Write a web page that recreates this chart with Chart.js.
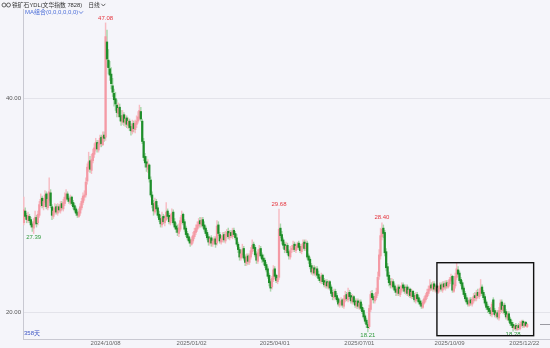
<!DOCTYPE html>
<html>
<head>
<meta charset="utf-8">
<script src="https://cdn.jsdelivr.net/npm/chart.js@4.4.1/dist/chart.umd.min.js"></script>
<style>
  html, body { margin: 0; padding: 0; background: #f5f5fa; }
  #wrap { width: 550px; height: 348px; }
</style>
</head>
<body>
<div id="wrap"><canvas id="kline" width="550" height="348"></canvas></div>
<script>
// daily candles, 358 days
const open = [
  28.4, 29.5, 29.1, 28.6, 29.0, 28.7, 28.3, 27.9, 28.4, 28.9,
  28.4, 29.1, 30.2, 30.7, 29.9, 30.3, 31.1, 29.8, 30.5, 31.2,
  29.9, 29.0, 29.4, 29.9, 29.3, 29.9, 29.5, 30.2, 29.7, 30.2,
  30.7, 31.1, 30.7, 30.3, 30.8, 30.3, 30.0, 29.7, 29.4, 29.0,
  29.3, 29.8, 30.3, 30.8, 31.0, 32.3, 33.5, 34.2, 33.3, 34.2,
  34.8, 35.3, 35.9, 35.2, 35.7, 36.4, 35.7, 36.6, 36.4, 45.3,
  43.6, 42.8, 42.3, 41.2, 40.5, 40.0, 39.4, 38.6, 39.2, 38.4,
  37.8, 38.5, 37.7, 38.2, 37.5, 37.9, 37.4, 36.9, 37.7, 37.1,
  37.6, 37.9, 38.2, 38.8, 37.9, 36.0, 34.6, 34.1, 33.4, 33.8,
  32.4, 31.0, 30.2, 29.4, 30.4, 29.8, 29.2, 28.8, 28.2, 29.0,
  28.4, 28.7, 29.5, 29.1, 28.4, 28.8, 29.4, 28.5, 28.1, 27.9,
  27.4, 27.8, 28.5, 29.2, 28.5, 27.9, 27.4, 27.1, 26.8, 26.4,
  26.7, 27.1, 27.5, 27.8, 28.1, 28.6, 28.2, 28.7, 28.2, 27.9,
  27.5, 27.1, 26.5, 27.0, 26.4, 26.6, 26.9, 26.5, 28.2, 27.3,
  26.6, 26.8, 27.3, 26.7, 27.2, 27.6, 27.0, 27.5, 27.1, 27.7,
  27.4, 27.0, 26.4, 25.9, 25.1, 25.4, 26.0, 25.2, 24.6, 25.3,
  24.7, 25.2, 25.7, 26.4, 26.1, 25.5, 24.8, 25.5, 26.0, 25.4,
  25.1, 24.9, 24.5, 24.1, 23.5, 22.9, 22.4, 23.1, 24.1, 23.5,
  22.9, 23.3, 27.9, 27.3, 26.8, 26.4, 25.8, 26.3, 25.7, 25.2,
  25.9, 25.9, 26.4, 25.8, 26.1, 26.5, 26.2, 25.7, 26.1, 26.6,
  26.0, 26.5, 25.3, 25.0, 24.4, 23.7, 24.2, 23.6, 24.1, 23.6,
  23.3, 22.9, 23.5, 23.0, 22.5, 22.9, 22.4, 22.9, 22.4, 21.9,
  21.4, 22.0, 21.6, 21.3, 20.7, 20.8, 21.2, 20.6, 21.2, 21.7,
  21.2, 21.9, 21.6, 21.0, 21.5, 21.1, 20.6, 21.1, 20.5, 21.0,
  20.5, 20.2, 19.7, 19.3, 18.9, 18.7, 20.3, 21.8, 21.5, 21.1,
  21.4, 21.8, 23.4, 25.3, 27.1, 27.9, 27.5, 25.7, 24.3, 23.5,
  22.9, 22.5, 22.9, 22.5, 22.2, 21.8, 22.4, 21.7, 22.1, 22.6,
  22.4, 21.9, 22.4, 21.7, 22.2, 21.5, 22.0, 21.6, 21.1, 21.7,
  21.4, 21.1, 20.9, 20.5, 20.9, 21.2, 21.5, 21.8, 22.1, 22.6,
  22.2, 22.7, 22.1, 22.5, 21.9, 22.2, 22.6, 22.1, 22.7, 22.3,
  22.8, 22.4, 22.7, 23.0, 23.4, 22.0, 22.5, 23.3, 24.0, 23.7,
  23.1, 22.8, 22.3, 21.8, 21.4, 21.1, 20.7, 21.2, 20.8, 21.1,
  21.6, 21.3, 21.9, 21.5, 21.8, 22.4, 21.9, 21.5, 21.0, 20.6,
  20.4, 20.2, 19.8, 21.2, 20.2, 19.7, 20.0, 19.5, 20.1, 21.0,
  20.2, 20.7, 20.1, 19.5, 19.9, 19.4, 19.1, 18.9, 18.5, 18.8,
  18.4, 18.8, 18.5, 18.8, 19.2, 18.7, 19.1, 18.7
];
const high = [
  30.8, 29.8, 29.3, 29.4, 29.2, 28.9, 28.5, 28.8, 29.5, 29.1,
  29.5, 30.4, 31.1, 30.9, 30.7, 31.4, 31.3, 31.2, 32.6, 31.5,
  30.1, 29.8, 30.2, 30.1, 30.2, 30.1, 30.4, 30.4, 30.6, 31.2,
  31.5, 31.3, 30.9, 31.0, 30.9, 30.5, 30.2, 29.9, 29.6, 29.7,
  30.2, 30.7, 31.2, 31.4, 32.6, 33.9, 35.0, 34.6, 34.8, 35.3,
  35.8, 36.3, 36.1, 36.1, 36.6, 36.6, 36.9, 36.9, 47.08, 46.4,
  44.6, 43.5, 42.9, 41.9, 40.9, 40.6, 39.9, 39.6, 39.5, 38.9,
  38.9, 38.7, 38.5, 38.4, 38.2, 38.1, 37.7, 38.0, 37.9, 38.0,
  38.4, 38.8, 39.4, 39.2, 38.1, 36.3, 34.9, 34.6, 34.3, 33.9,
  32.7, 31.3, 30.5, 30.7, 30.6, 30.0, 29.5, 29.1, 29.4, 29.2,
  29.1, 30.3, 29.7, 29.3, 29.2, 29.7, 29.6, 28.8, 28.4, 28.2,
  28.3, 28.9, 29.5, 29.3, 28.7, 28.1, 27.6, 27.3, 27.0, 27.1,
  27.5, 27.9, 28.2, 28.5, 28.8, 28.9, 28.9, 28.9, 28.5, 28.1,
  27.7, 27.3, 27.1, 27.2, 26.9, 27.1, 27.1, 28.6, 28.5, 27.5,
  27.2, 27.5, 27.5, 27.6, 27.8, 27.9, 27.7, 27.7, 27.9, 27.9,
  27.6, 27.3, 26.6, 26.1, 25.8, 26.4, 26.2, 25.4, 25.5, 25.5,
  25.5, 26.1, 26.8, 26.6, 26.3, 25.7, 25.9, 26.3, 26.2, 25.6,
  25.4, 25.1, 24.7, 24.3, 23.7, 23.1, 23.4, 24.4, 24.3, 23.6,
  23.5, 29.68, 28.3, 27.6, 27.0, 26.6, 26.6, 26.5, 25.9, 26.2,
  26.3, 26.7, 26.6, 26.4, 26.6, 26.7, 26.4, 26.4, 26.8, 26.8,
  26.8, 26.7, 25.5, 25.2, 24.6, 24.4, 24.4, 24.3, 24.3, 23.9,
  23.5, 23.7, 23.6, 23.2, 23.1, 23.1, 23.0, 23.0, 22.6, 22.1,
  22.2, 22.2, 21.8, 21.4, 21.2, 21.4, 21.3, 21.6, 22.0, 21.9,
  22.3, 22.1, 21.8, 21.7, 21.6, 21.3, 21.3, 21.3, 21.2, 21.2,
  20.8, 20.4, 19.9, 19.5, 19.1, 20.7, 22.0, 22.1, 21.7, 21.8,
  22.3, 23.8, 25.9, 27.9, 28.40, 28.2, 27.7, 26.0, 24.6, 23.8,
  23.2, 23.2, 23.1, 22.7, 22.4, 22.6, 22.6, 22.5, 22.8, 22.8,
  22.6, 22.6, 22.6, 22.4, 22.3, 22.2, 22.1, 21.8, 21.9, 21.9,
  21.6, 21.3, 21.1, 21.2, 21.5, 21.8, 22.2, 22.5, 23.1, 22.8,
  22.9, 22.9, 22.6, 22.7, 22.5, 22.8, 22.8, 22.9, 22.9, 23.0,
  23.0, 23.0, 23.3, 23.6, 23.5, 22.8, 23.7, 24.7, 24.3, 23.9,
  23.3, 23.0, 22.5, 22.0, 21.6, 21.3, 21.4, 21.4, 21.4, 21.8,
  21.9, 22.1, 22.2, 22.2, 23.1, 22.6, 22.1, 21.7, 21.2, 20.8,
  20.6, 20.5, 21.0, 21.4, 20.4, 20.2, 20.2, 20.5, 21.2, 21.2,
  20.9, 20.9, 20.3, 20.1, 20.1, 19.6, 19.3, 19.1, 18.9, 19.0,
  18.9, 19.0, 19.2, 19.3, 19.3, 19.2, 19.2, 19.0
];
const low = [
  28.2, 28.8, 28.4, 28.4, 28.4, 28.0, 27.6, 27.39, 28.2, 28.0,
  28.2, 28.9, 29.9, 29.8, 29.6, 30.1, 29.7, 29.6, 30.3, 29.8,
  28.7, 28.8, 29.2, 29.2, 29.1, 29.4, 29.3, 29.6, 29.5, 30.0,
  30.5, 30.4, 30.2, 30.1, 30.0, 29.7, 29.4, 29.1, 28.9, 28.9,
  29.1, 29.6, 30.1, 30.5, 30.8, 32.0, 33.2, 33.1, 33.0, 34.0,
  34.5, 35.1, 35.0, 35.0, 35.5, 35.5, 35.6, 36.0, 36.1, 43.0,
  42.3, 41.7, 40.9, 40.2, 39.3, 38.9, 38.3, 38.3, 37.9, 37.5,
  37.6, 37.5, 37.4, 37.3, 37.2, 37.0, 36.6, 36.7, 36.9, 36.8,
  37.3, 37.7, 38.0, 37.9, 35.8, 34.2, 33.6, 33.2, 33.1, 32.2,
  30.8, 29.8, 29.1, 29.2, 29.5, 28.9, 28.5, 28.0, 28.0, 28.3,
  28.1, 28.6, 28.8, 28.3, 28.2, 28.6, 28.2, 27.8, 27.5, 27.2,
  27.1, 27.6, 28.3, 28.2, 27.6, 27.1, 26.8, 26.5, 26.2, 26.3,
  26.5, 26.9, 27.3, 27.6, 27.9, 28.0, 28.0, 27.9, 27.6, 27.2,
  26.8, 26.3, 26.3, 26.2, 26.2, 26.4, 26.1, 26.3, 27.2, 26.5,
  26.4, 26.6, 26.6, 26.5, 27.0, 26.9, 26.8, 27.0, 26.9, 27.1,
  26.8, 26.2, 25.6, 24.9, 24.9, 25.2, 24.9, 24.4, 24.4, 24.5,
  24.5, 25.0, 25.5, 25.8, 25.2, 24.6, 24.6, 25.3, 25.1, 24.7,
  24.5, 24.2, 23.8, 23.2, 22.5, 22.0, 22.2, 22.9, 23.2, 22.8,
  22.7, 23.1, 27.0, 26.4, 26.0, 25.6, 25.6, 25.4, 25.0, 25.0,
  25.6, 25.7, 25.7, 25.6, 25.9, 25.9, 25.6, 25.5, 25.9, 25.8,
  25.8, 25.0, 24.6, 24.1, 23.6, 23.5, 23.5, 23.4, 23.3, 23.0,
  22.8, 22.7, 22.7, 22.4, 22.3, 22.3, 22.2, 22.1, 21.6, 21.2,
  21.2, 21.3, 21.0, 20.6, 20.5, 20.6, 20.5, 20.4, 21.0, 21.1,
  21.0, 21.3, 20.9, 20.8, 20.8, 20.5, 20.4, 20.4, 20.3, 20.2,
  19.9, 19.4, 19.0, 18.6, 18.21, 18.5, 20.1, 21.2, 20.9, 20.9,
  21.2, 21.6, 23.1, 25.0, 26.8, 27.0, 25.3, 23.9, 23.1, 22.5,
  22.3, 22.3, 22.2, 21.9, 21.6, 21.6, 21.6, 21.5, 21.9, 22.0,
  21.8, 21.7, 21.6, 21.5, 21.4, 21.3, 21.3, 21.0, 20.9, 21.1,
  20.8, 20.6, 20.4, 20.4, 20.8, 21.0, 21.3, 21.6, 22.0, 22.1,
  22.0, 22.0, 21.9, 21.8, 21.8, 22.0, 22.0, 21.9, 22.2, 22.1,
  22.3, 22.3, 22.5, 22.9, 21.9, 21.9, 22.3, 23.1, 23.4, 22.8,
  22.5, 22.0, 21.5, 21.1, 20.8, 20.6, 20.6, 20.7, 20.6, 20.9,
  21.1, 21.1, 21.4, 21.3, 21.6, 21.6, 21.2, 20.7, 20.3, 20.0,
  19.9, 19.7, 19.6, 19.9, 19.6, 19.5, 19.4, 19.3, 19.9, 20.0,
  19.9, 19.8, 19.4, 19.3, 19.1, 18.8, 18.6, 18.28, 18.4, 18.35,
  18.35, 18.4, 18.4, 18.7, 18.6, 18.6, 18.7, 18.6
];
const close = [
  29.6, 29.0, 28.7, 29.1, 28.6, 28.2, 28.0, 28.5, 28.9, 28.3,
  29.2, 30.1, 30.6, 30.0, 30.4, 31.0, 29.9, 30.6, 31.3, 30.0,
  29.1, 29.5, 29.8, 29.4, 29.9, 29.6, 30.1, 29.8, 30.3, 30.8,
  31.1, 30.6, 30.4, 30.7, 30.2, 29.9, 29.6, 29.3, 29.1, 29.4,
  29.9, 30.4, 30.9, 31.0, 32.2, 33.6, 34.1, 33.4, 34.3, 34.9,
  35.4, 35.9, 35.3, 35.8, 36.3, 35.8, 36.5, 36.3, 45.8, 43.7,
  42.9, 42.2, 41.4, 40.6, 39.9, 39.5, 38.7, 39.1, 38.3, 37.9,
  38.4, 37.8, 38.1, 37.6, 37.9, 37.3, 37.0, 37.6, 37.2, 37.7,
  37.9, 38.3, 38.9, 38.1, 36.0, 34.5, 34.0, 33.6, 33.9, 32.5,
  31.0, 30.1, 29.5, 30.3, 29.7, 29.1, 28.7, 28.3, 28.9, 28.5,
  28.8, 29.4, 29.0, 28.5, 28.9, 29.3, 28.4, 28.0, 27.8, 27.5,
  27.9, 28.6, 29.1, 28.4, 27.8, 27.3, 27.0, 26.7, 26.5, 26.8,
  27.2, 27.6, 27.9, 28.2, 28.5, 28.3, 28.6, 28.1, 27.8, 27.4,
  27.0, 26.6, 26.9, 26.5, 26.7, 26.9, 26.4, 28.1, 27.4, 26.7,
  26.9, 27.2, 26.8, 27.3, 27.5, 27.1, 27.4, 27.2, 27.6, 27.3,
  27.0, 26.4, 25.9, 25.2, 25.5, 25.9, 25.1, 24.7, 25.2, 24.8,
  25.3, 25.8, 26.3, 26.0, 25.4, 24.9, 25.6, 25.9, 25.3, 25.0,
  24.8, 24.4, 24.0, 23.4, 22.8, 22.3, 23.2, 24.0, 23.4, 23.0,
  23.2, 27.8, 27.2, 26.7, 26.3, 25.9, 26.2, 25.6, 25.3, 25.8,
  26.0, 26.3, 25.9, 26.2, 26.4, 26.1, 25.8, 26.2, 26.5, 26.0,
  26.4, 25.2, 24.9, 24.3, 23.8, 24.1, 23.7, 24.0, 23.5, 23.2,
  23.0, 23.4, 22.9, 22.6, 22.8, 22.5, 22.8, 22.3, 21.8, 21.5,
  21.9, 21.5, 21.2, 20.8, 20.9, 21.1, 20.7, 21.3, 21.6, 21.3,
  21.8, 21.5, 21.1, 21.4, 21.0, 20.7, 21.0, 20.6, 20.9, 20.4,
  20.1, 19.6, 19.2, 18.9, 18.6, 20.4, 21.7, 21.4, 21.2, 21.5,
  21.9, 23.3, 25.4, 27.2, 27.8, 27.4, 25.6, 24.2, 23.4, 22.8,
  22.6, 22.9, 22.4, 22.1, 21.9, 22.3, 21.8, 22.2, 22.5, 22.3,
  22.0, 22.3, 21.8, 22.1, 21.6, 21.9, 21.5, 21.2, 21.6, 21.3,
  21.0, 20.8, 20.6, 21.0, 21.3, 21.6, 21.9, 22.2, 22.5, 22.3,
  22.6, 22.2, 22.4, 22.0, 22.3, 22.5, 22.2, 22.6, 22.4, 22.7,
  22.5, 22.8, 23.1, 23.3, 22.1, 22.6, 23.4, 24.1, 23.6, 23.0,
  22.7, 22.2, 21.7, 21.3, 21.0, 20.8, 21.1, 20.9, 21.2, 21.5,
  21.4, 21.8, 21.6, 21.9, 22.3, 21.8, 21.4, 20.9, 20.5, 20.3,
  20.1, 19.9, 20.8, 20.1, 19.8, 19.9, 19.6, 20.2, 20.9, 20.3,
  20.6, 20.0, 19.6, 19.8, 19.3, 19.0, 18.8, 18.6, 18.7, 18.5,
  18.7, 18.6, 18.9, 19.1, 18.8, 19.0, 18.8, 18.9
];

// date ticks (candle index -> label)
const tickIdx = [58, 119, 178, 238, 302, 355];
const tickText = ['2024/10/08', '2025/01/02', '2025/04/01', '2025/07/01', '2025/10/09', '2025/12/22'];
const yTicks = [20, 40];

// marked highs / lows
const peakIdx = [58, 181, 254];
const peakText = ['47.08', '29.68', '28.40'];
const troughIdx = [7, 244, 347];
const troughText = ['27.39', '18.21', '18.28'];

// selection box (index / price units)
const selBox = { x0: 293, x1: 361.6, y0: 17.85, y1: 24.67 };

const FONT = '"Liberation Sans", "Noto Sans CJK SC", sans-serif';
const UP = '#f49aa5', UP_WICK = '#f7bcc3';
const DOWN = '#1e8e2a', DOWN_WICK = '#a8d6ab';

const isUp = close.map((c, i) => c >= open[i]);

function chevron(ctx, x, y, color) {
  ctx.strokeStyle = color;
  ctx.lineWidth = 0.8;
  ctx.beginPath();
  ctx.moveTo(x, y - 1.2);
  ctx.lineTo(x + 2, y + 1);
  ctx.lineTo(x + 4, y - 1.2);
  ctx.stroke();
}

const overlay = {
  id: 'overlay',
  afterDatasetsDraw(chart) {
    const { ctx, scales: { x, y }, chartArea: a } = chart;
    ctx.save();
    ctx.font = '6px ' + FONT;
    ctx.textAlign = 'center';
    ctx.textBaseline = 'middle';

    ctx.fillStyle = '#e5353d';
    peakIdx.forEach((i, k) => {
      ctx.fillText(peakText[k], x.getPixelForValue(i), y.getPixelForValue(high[i]) - 5);
    });
    ctx.fillStyle = '#2f9a3c';
    troughIdx.forEach((i, k) => {
      ctx.fillText(troughText[k], x.getPixelForValue(i), y.getPixelForValue(low[i]) + 3.5);
    });

    // box
    ctx.strokeStyle = '#111';
    ctx.lineWidth = 1.4;
    const bx0 = x.getPixelForValue(selBox.x0), bx1 = x.getPixelForValue(selBox.x1);
    const by0 = y.getPixelForValue(selBox.y1), by1 = y.getPixelForValue(selBox.y0);
    ctx.strokeRect(bx0, by0, bx1 - bx0, by1 - by0);

    // last price marker
    const ly = Math.round(y.getPixelForValue(close[close.length - 1])) + 0.5;
    ctx.strokeStyle = '#9a9aa2';
    ctx.lineWidth = 1;
    ctx.beginPath();
    ctx.moveTo(a.right - 10, ly);
    ctx.lineTo(a.right, ly);
    ctx.stroke();

    // texts inside plot
    ctx.textAlign = 'left';
    ctx.fillStyle = '#4d6fd8';
    ctx.fillText('MA组合(0,0,0,0,0,0)', 25, 12.5);
    chevron(ctx, 79, 12.5, '#4d6fd8');
    ctx.fillStyle = '#3d55c4';
    ctx.fillText('358天', 24, 333);
    ctx.restore();
  },
  afterDraw(chart) {
    const { ctx } = chart;
    ctx.save();
    ctx.font = '5.8px ' + FONT;
    ctx.textBaseline = 'middle';
    ctx.textAlign = 'left';
    // link icon
    ctx.strokeStyle = '#555';
    ctx.lineWidth = 0.9;
    ctx.beginPath(); ctx.arc(4, 5, 2, 0, Math.PI * 2); ctx.stroke();
    ctx.beginPath(); ctx.arc(8.5, 5, 2, 0, Math.PI * 2); ctx.stroke();
    ctx.fillStyle = '#333';
    const title = '铁矿石YDL(文华指数 7828)';
    ctx.fillText(title, 12, 5);
    const tx = 12 + ctx.measureText(title).width + 6;
    ctx.fillText('日线', tx, 5);
    chevron(ctx, tx + ctx.measureText('日线').width + 1.5, 5, '#444');
    ctx.restore();
  }
};

const idx = close.map((_, i) => i);

new Chart(document.getElementById('kline'), {
  type: 'bar',
  data: {
    datasets: [{
      label: 'body',
      data: idx.map(i => ({ x: i, y: [open[i], close[i]] })),
      backgroundColor: isUp.map(u => u ? UP : DOWN),
      barThickness: 1.6,
      minBarLength: 0.8,
      grouped: false,
      borderWidth: 0
    }, {
      label: 'wick',
      data: idx.map(i => ({ x: i, y: [low[i], high[i]] })),
      backgroundColor: isUp.map(u => u ? UP_WICK : DOWN_WICK),
      barThickness: 0.8,
      grouped: false,
      borderWidth: 0
    }]
  },
  options: {
    responsive: false,
    animation: false,
    devicePixelRatio: 1,
    layout: { padding: { top: 9, right: 0, left: 0, bottom: 0 } },
    plugins: { legend: { display: false }, tooltip: { enabled: false } },
    scales: {
      x: {
        type: 'linear',
        min: -0.57,
        max: 373.2,
        offset: false,
        grid: { display: false, drawTicks: false },
        border: { color: '#c9c9d2' },
        afterBuildTicks: s => { s.ticks = tickIdx.map(v => ({ value: v })); },
        ticks: {
          autoSkip: false, maxRotation: 0, padding: 1,
          font: { size: 6, family: FONT }, color: '#666',
          callback: (v, i) => tickText[i]
        },
        afterFit: s => { s.height = 9; }
      },
      y: {
        min: 17.54,
        max: 48.38,
        grid: { color: '#e3e3ea', drawTicks: false },
        border: { color: '#c9c9d2' },
        afterBuildTicks: s => { s.ticks = yTicks.map(v => ({ value: v })); },
        ticks: {
          padding: 2,
          font: { size: 6, family: FONT }, color: '#555',
          callback: v => v.toFixed(2)
        },
        afterFit: s => { s.width = 23; }
      }
    }
  },
  plugins: [overlay]
});
</script>
</body>
</html>
